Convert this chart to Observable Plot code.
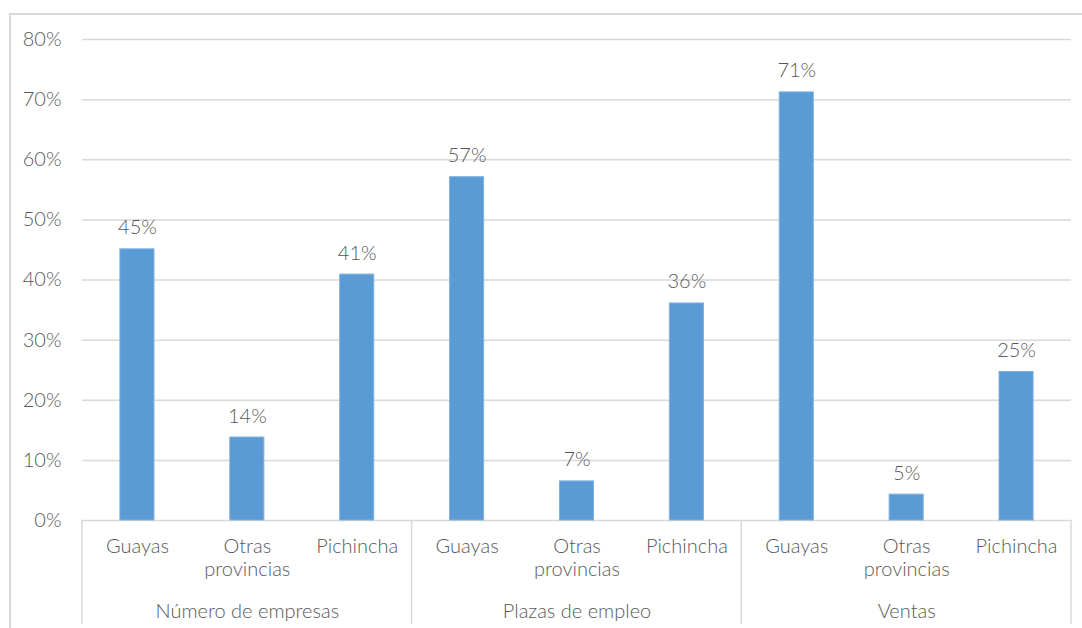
<!DOCTYPE html>
<html>
<head>
<meta charset="utf-8">
<script src="https://cdn.jsdelivr.net/npm/d3@7"></script>
<script src="https://cdn.jsdelivr.net/npm/@observablehq/plot@0.6"></script>
<style>
  html, body { margin: 0; padding: 0; background: #fff; }
  #wrap { position: relative; width: 1082px; height: 628px; overflow: hidden; }
  #border { position: absolute; left: 9px; top: 13px; right: -5px; bottom: -5px;
            border-left: 2px solid #d9d9d9; border-top: 2px solid #d9d9d9; }
  #chart { position: absolute; left: 0; top: 0; }
</style>
</head>
<body>
<div id="wrap"><div id="border"></div><div id="chart"></div></div>
<script>
// ---- data ----
const groups = ["Número de empresas", "Plazas de empleo", "Ventas"];
const provinces = ["Guayas", "Otras provincias", "Pichincha"];
const provinceLabels = ["Guayas", "Otras\nprovincias", "Pichincha"];
const values = [
  [0.451, 0.138, 0.409],   // Número de empresas
  [0.571, 0.065, 0.361],   // Plazas de empleo
  [0.712, 0.043, 0.247]    // Ventas
];
const valueLabels = [
  ["45%", "14%", "41%"],
  ["57%", "7%", "36%"],
  ["71%", "5%", "25%"]
];
const yTicks = [0, 0.1, 0.2, 0.3, 0.4, 0.5, 0.6, 0.7, 0.8];

// ---- table ----
const rows = [];
groups.forEach((g, gi) => provinces.forEach((p, pi) => rows.push({
  key: g + "|" + p, group: g, province: p, plabel: provinceLabels[pi],
  value: values[gi][pi], label: valueLabels[gi][pi], middle: pi === 1
})));
const keys = rows.map(d => d.key);

const textColor = "#595959";
const font = "Lato, 'Open Sans', sans-serif";
const fs = 20;
const padIn = 0.69;

const plot = Plot.plot({
  width: 1082,
  height: 628,
  marginTop: 39,
  marginBottom: 108,
  marginLeft: 82,
  marginRight: 11,
  style: { fontFamily: font, fontSize: fs + "px", color: textColor, background: "transparent", fontWeight: 300 },
  x: { domain: keys, paddingInner: padIn, paddingOuter: padIn / 2, round: false, axis: null },
  y: { domain: [0, 0.8], axis: null },
  marks: [
    Plot.gridY(yTicks, { stroke: "#d9d9d9", strokeOpacity: 1, strokeWidth: 1.5 }),
    Plot.axisY(yTicks, { tickFormat: d3.format(".0%"), tickSize: 0, tickPadding: 21, fontSize: fs, fill: textColor, label: null }),
    Plot.barY(rows, { x: "key", y: "value", fill: "#5b9bd5", stroke: "#7eb1de", strokeWidth: 1 }),
    Plot.text(rows, { x: "key", y: "value", text: "label", lineAnchor: "bottom", dy: -15, fontSize: fs, fill: textColor }),
    Plot.text(rows, { x: "key", y: () => 0, text: "plabel", lineAnchor: "top", dy: 17, lineHeight: 1.12, fontSize: fs, fill: textColor }),
    Plot.text(rows.filter(d => d.middle), { x: "key", y: () => 0, text: "group", lineAnchor: "top", dy: 83, fontSize: fs, fill: textColor })
  ]
});

// group separators below the axis, placed with the plot's own scales
const xs = plot.scale("x");
const ys = plot.scale("y");
const bw = xs.bandwidth;
const step = xs.step || bw / (1 - padIn);
const gap = (step - bw) / 2;
const y0 = ys.apply(0);
const seps = [];
groups.forEach(g => {
  const first = rows.find(d => d.group === g).key;
  seps.push(xs.apply(first) - gap);
});
const lastKey = keys[keys.length - 1];
seps.push(xs.apply(lastKey) + bw + gap);
const svg = d3.select(plot);
svg.append("g").selectAll("line").data(seps).join("line")
  .attr("x1", d => d).attr("x2", d => d)
  .attr("y1", y0).attr("y2", y0 + 104)
  .attr("stroke", "#d9d9d9").attr("stroke-width", 1.5);

document.getElementById("chart").appendChild(plot);
</script>
</body>
</html>
